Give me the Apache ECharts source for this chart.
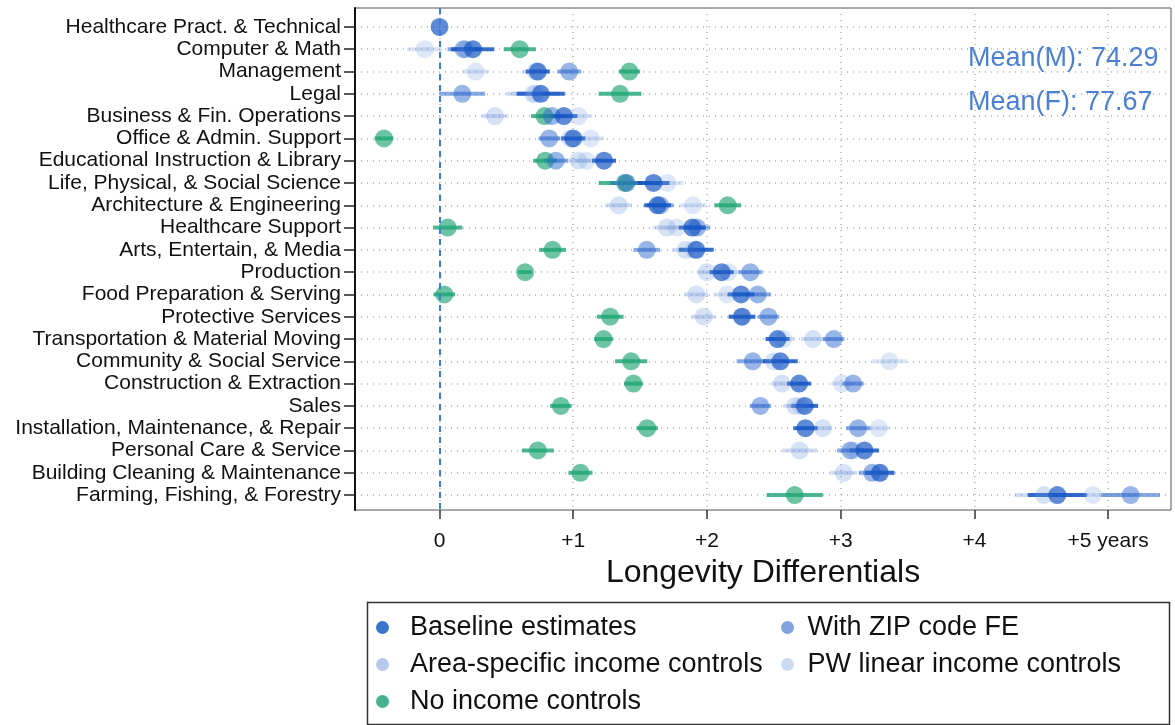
<!DOCTYPE html>
<html><head><meta charset="utf-8">
<script src="https://cdn.jsdelivr.net/npm/echarts@6/dist/echarts.min.js"></script>
<style>html,body{margin:0;padding:0;background:#fff}#c{width:1175px;height:725px}</style>
</head><body><div id="c"></div>
<script>
const categories = ["Healthcare Pract. & Technical","Computer & Math","Management","Legal","Business & Fin. Operations","Office & Admin. Support","Educational Instruction & Library","Life, Physical, & Social Science","Architecture & Engineering","Healthcare Support","Arts, Entertain, & Media","Production","Food Preparation & Serving","Protective Services","Transportation & Material Moving","Community & Social Service","Construction & Extraction","Sales","Installation, Maintenance, & Repair","Personal Care & Service","Building Cleaning & Maintenance","Farming, Fishing, & Forestry"];

const baseline   = [0, 0.25, 0.735, 0.757, 0.93, 1.0, 1.23, 1.60, 1.63, 1.89, 1.92, 2.11, 2.255, 2.262, 2.528, 2.549, 2.689, 2.731, 2.736, 3.177, 3.292, 4.62];
const baselineCI = [0, 0.16, 0.09, 0.18, 0.1, 0.09, 0.09, 0.12, 0.1, 0.1, 0.13, 0.09, 0.1, 0.1, 0.09, 0.13, 0.09, 0.1, 0.09, 0.11, 0.11, 0.22];
const zipFE      = [null, 0.18, 0.97, 0.17, 0.84, 0.82, 0.87, 1.40, 1.65, 1.925, 1.55, 2.325, 2.38, 2.46, 2.948, 2.342, 3.093, 2.399, 3.13, 3.073, 3.235, 5.168];
const zipFECI    = [0, 0.12, 0.09, 0.17, 0.1, 0.08, 0.09, 0.12, 0.1, 0.1, 0.1, 0.09, 0.1, 0.08, 0.08, 0.12, 0.08, 0.08, 0.09, 0.1, 0.1, 0.22];
const areaInc    = [null, 0.2, 0.72, 0.70, 0.415, 0.98, 1.04, 1.38, 1.34, 1.70, 1.84, 2.0, 1.92, 1.975, 2.793, 2.5, 2.561, 2.66, 2.866, 2.693, 3.022, 4.52];
const areaIncCI  = [0, 0.12, 0.1, 0.2, 0.1, 0.1, 0.09, 0.12, 0.1, 0.1, 0.1, 0.07, 0.09, 0.09, 0.09, 0.1, 0.08, 0.09, 0.07, 0.13, 0.1, 0.22];
const pwLinear   = [null, -0.11, 0.27, 0.72, 1.04, 1.13, 1.10, 1.705, 1.895, 1.775, 1.90, 2.16, 2.15, 2.26, 2.57, 3.365, 3.01, 2.70, 3.285, 3.1, 3.3, 4.886];
const pwLinearCI = [0, 0.13, 0.1, 0.18, 0.1, 0.1, 0.09, 0.12, 0.1, 0.1, 0.1, 0.08, 0.1, 0.1, 0.09, 0.13, 0.08, 0.09, 0.08, 0.1, 0.1, 0.22];
const noIncome   = [null, 0.60, 1.42, 1.35, 0.785, -0.415, 0.79, 1.39, 2.155, 0.061, 0.845, 0.64, 0.036, 1.276, 1.226, 1.433, 1.45, 0.907, 1.553, 0.735, 1.054, 2.656];
const noIncomeCI = [0, 0.12, 0.08, 0.16, 0.1, 0.07, 0.09, 0.2, 0.1, 0.11, 0.1, 0.05, 0.08, 0.1, 0.07, 0.12, 0.07, 0.08, 0.08, 0.12, 0.09, 0.21];

const xTicks = [0, 1, 2, 3, 4, 5];
const xTickLabels = ["0", "+1", "+2", "+3", "+4", "+5 years"];
const xAxisTitle = "Longevity Differentials";
const meanLabels = ["Mean(M): 74.29", "Mean(F): 77.67"];
const seriesNames = ["Baseline estimates", "With ZIP code FE", "Area-specific income controls", "PW linear income controls", "No income controls"];

const FONT = '"Liberation Sans", Arial, sans-serif';
const rows = categories.map((_, i) => i);

function pts(vals) { return vals.map((v, i) => v == null ? null : [v, i]).filter(d => d); }
function bars(vals, hw) { return vals.map((v, i) => v == null || !hw[i] ? null : [v - hw[i], v + hw[i], i]).filter(d => d); }
function barRender(color) {
  return function (params, api) {
    const a = api.coord([api.value(0), api.value(2)]);
    const b = api.coord([api.value(1), api.value(2)]);
    return { type: 'rect', shape: { x: a[0], y: a[1] - 2, width: b[0] - a[0], height: 4 }, style: { fill: color } };
  };
}
function pair(name, vals, hw, dotColor, barColor) {
  return [
    { type: 'custom', name: name + ' CI', renderItem: barRender(barColor), encode: { x: [0, 1], y: 2 }, data: bars(vals, hw), silent: true },
    { type: 'scatter', name: name, symbol: 'circle', symbolSize: 18, itemStyle: { color: dotColor }, data: pts(vals), silent: true }
  ];
}

const series = [].concat(
  pair(seriesNames[2], areaInc, areaIncCI, 'rgba(110,150,220,0.36)', 'rgba(110,150,220,0.33)'),
  pair(seriesNames[3], pwLinear, pwLinearCI, 'rgba(130,165,225,0.33)', 'rgba(130,165,225,0.3)'),
  pair(seriesNames[4], noIncome, noIncomeCI, 'rgba(30,165,118,0.82)', 'rgba(30,165,118,0.8)'),
  pair(seriesNames[1], zipFE, zipFECI, 'rgba(40,100,205,0.6)', 'rgba(40,100,205,0.55)'),
  pair(seriesNames[0], baseline, baselineCI, 'rgba(20,85,195,0.85)', 'rgba(20,85,195,0.85)')
);
series[series.length - 1].markLine = {
  silent: true, symbol: ['none', 'none'], label: { show: false },
  lineStyle: { type: [6, 5], color: '#3a7be0', width: 2 },
  data: [{ xAxis: 0 }]
};

const chart = echarts.init(document.getElementById('c'), null, { renderer: 'canvas' });
chart.setOption({
  animation: false,
  backgroundColor: '#fff',
  grid: { left: 355, right: 4, top: 8, bottom: 215, show: true, borderColor: '#555', borderWidth: 1 },
  xAxis: {
    type: 'value', min: -0.632, max: 5.47, minInterval: 1, maxInterval: 1,
    name: xAxisTitle, nameLocation: 'middle', nameGap: 35,
    nameTextStyle: { fontFamily: FONT, fontSize: 32, color: '#111', verticalAlign: 'top' },
    axisLine: { show: false, onZero: false },
    axisTick: { show: true, length: 9, customValues: xTicks, lineStyle: { color: '#333', width: 1.5 } },
    axisLabel: { customValues: xTicks, margin: 21, fontFamily: FONT, fontSize: 21, color: '#111',
      formatter: v => { const k = xTicks.indexOf(v); return k < 0 ? '' : xTickLabels[k]; } },
    splitLine: { show: true, lineStyle: { type: [1, 5], color: '#b0b0b0', width: 1.5 } }
  },
  yAxis: {
    type: 'value', inverse: true, min: -0.85, max: 21.67, minInterval: 1, maxInterval: 1,
    axisLine: { show: true, onZero: false, lineStyle: { color: '#111', width: 2 } },
    axisTick: { show: true, length: 11, customValues: rows, lineStyle: { color: '#222', width: 1.5 } },
    axisLabel: { customValues: rows, margin: 14, fontFamily: FONT, fontSize: 21, color: '#111',
      formatter: v => categories[v] || '' },
    splitLine: { show: true, lineStyle: { type: [1, 5], color: '#b0b0b0', width: 1.5 } }
  },
  legend: [
    { orient: 'vertical', left: 371, top: 609, itemWidth: 45, itemHeight: 13, itemGap: 10, icon: 'circle', selectedMode: false,
      textStyle: { fontFamily: FONT, fontSize: 27, color: '#111' },
      data: [
        { name: seriesNames[0], itemStyle: { color: '#3b74cd', opacity: 1 } },
        { name: seriesNames[2], itemStyle: { color: '#b5c9ec', opacity: 1 } },
        { name: seriesNames[4], itemStyle: { color: '#47b08f', opacity: 1 } }
      ] },
    { orient: 'vertical', left: 776, top: 609, itemWidth: 30, itemHeight: 13, itemGap: 10, icon: 'circle', selectedMode: false,
      textStyle: { fontFamily: FONT, fontSize: 27, color: '#111' },
      data: [
        { name: seriesNames[1], itemStyle: { color: '#7ea3de', opacity: 1 } },
        { name: seriesNames[3], itemStyle: { color: '#ccdaf2', opacity: 1 } }
      ] }
  ],
  graphic: [
    { type: 'rect', left: 365, top: 600, shape: { width: 802, height: 122 }, style: { fill: 'none', stroke: '#333', lineWidth: 1.5 }, silent: true },
    { type: 'text', left: 968, top: 45, style: { text: meanLabels[0], fontFamily: FONT, fontSize: 27, fill: '#4a7fd4' }, silent: true },
    { type: 'text', left: 968, top: 89, style: { text: meanLabels[1], fontFamily: FONT, fontSize: 27, fill: '#4a7fd4' }, silent: true }
  ],
  series: series
});
</script>
</body></html>
